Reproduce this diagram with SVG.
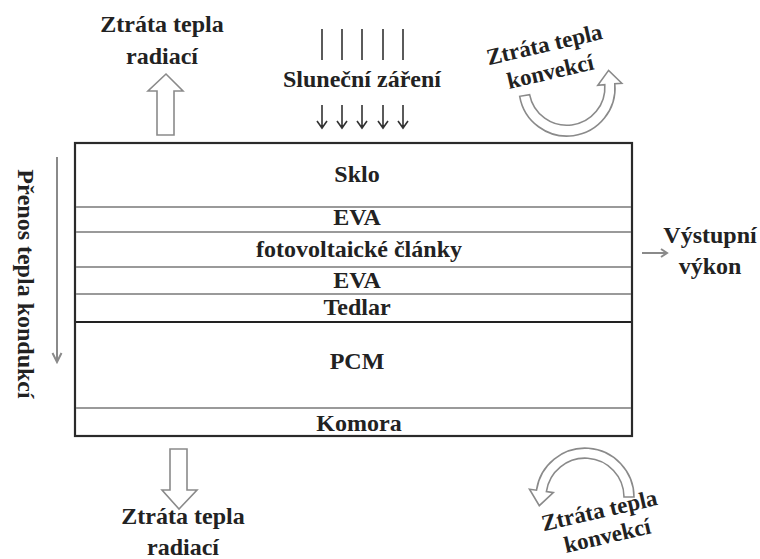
<svg xmlns="http://www.w3.org/2000/svg" width="760" height="559" viewBox="0 0 760 559">
<defs>
<style>
.sep{stroke:#9a9a9a;stroke-width:2}
.dark{stroke:#222;stroke-width:2}
.hollow{fill:#fff;stroke:#8a8a8a;stroke-width:1.6;stroke-linejoin:miter}
.ray{stroke:#333;stroke-width:1.6;fill:none}
.gray{stroke:#8a8a8a;stroke-width:2;fill:none}
</style>
</defs>
<rect width="760" height="559" fill="#fff"/>
<g id="panel">
<rect x="75" y="143" width="557" height="293" fill="#fff" stroke="#2a2a2a" stroke-width="2.2"/>
<line class="sep" x1="76" y1="207" x2="631" y2="207"/>
<line class="sep" x1="76" y1="232" x2="631" y2="232"/>
<line class="sep" x1="76" y1="267" x2="631" y2="267"/>
<line class="sep" x1="76" y1="294" x2="631" y2="294"/>
<line class="dark" x1="76" y1="322" x2="631" y2="322"/>
<line class="sep" x1="76" y1="408" x2="631" y2="408" stroke="#b8b8b8"/>
</g>
<g id="sklo"><text font-family="Liberation Serif" font-weight="bold" font-size="24" fill="#222" text-anchor="middle" x="357" y="182">Sklo</text></g>
<g id="eva1"><text font-family="Liberation Serif" font-weight="bold" font-size="24" fill="#222" text-anchor="middle" x="357" y="225">EVA</text></g>
<g id="fv"><text font-family="Liberation Serif" font-weight="bold" font-size="24" fill="#222" text-anchor="middle" x="359" y="257">fotovoltaické články</text></g>
<g id="eva2"><text font-family="Liberation Serif" font-weight="bold" font-size="24" fill="#222" text-anchor="middle" x="357" y="288">EVA</text></g>
<g id="tedlar"><text font-family="Liberation Serif" font-weight="bold" font-size="24" fill="#222" text-anchor="middle" x="357" y="315">Tedlar</text></g>
<g id="pcm"><text font-family="Liberation Serif" font-weight="bold" font-size="24" fill="#222" text-anchor="middle" x="357" y="369">PCM</text></g>
<g id="komora"><text font-family="Liberation Serif" font-weight="bold" font-size="24" fill="#222" text-anchor="middle" x="359" y="431">Komora</text></g>

<g id="rad-top">
<text font-family="Liberation Serif" font-weight="bold" font-size="24" fill="#222" text-anchor="middle" x="162" y="32">Ztráta tepla</text>
<text font-family="Liberation Serif" font-weight="bold" font-size="24" fill="#222" text-anchor="middle" x="162" y="64">radiací</text>
</g>
<g id="sun"><text font-family="Liberation Serif" font-weight="bold" font-size="24" fill="#222" text-anchor="middle" x="362" y="87">Sluneční záření</text></g>
<g id="conv-top">
<text font-family="Liberation Serif" font-weight="bold" font-size="23" fill="#222" text-anchor="middle" x="546" y="52" transform="rotate(-13 546 52)">Ztráta tepla</text>
<text font-family="Liberation Serif" font-weight="bold" font-size="23" fill="#222" text-anchor="middle" x="552" y="79" transform="rotate(-13 552 79)">konvekcí</text>
</g>
<g id="kond"><text font-family="Liberation Serif" font-weight="bold" font-size="24" fill="#222" text-anchor="middle" x="26" y="284" transform="rotate(90 26 284)" dominant-baseline="central">Přenos tepla kondukcí</text></g>
<g id="output">
<text font-family="Liberation Serif" font-weight="bold" font-size="24" fill="#222" text-anchor="middle" x="710" y="243">Výstupní</text>
<text font-family="Liberation Serif" font-weight="bold" font-size="24" fill="#222" text-anchor="middle" x="710" y="274">výkon</text>
</g>
<g id="rad-bottom">
<text font-family="Liberation Serif" font-weight="bold" font-size="24" fill="#222" text-anchor="middle" x="183" y="524">Ztráta tepla</text>
<text font-family="Liberation Serif" font-weight="bold" font-size="24" fill="#222" text-anchor="middle" x="183" y="555">radiací</text>
</g>
<g id="conv-bottom">
<text font-family="Liberation Serif" font-weight="bold" font-size="23" fill="#222" text-anchor="middle" x="601" y="518" transform="rotate(-13 601 518)">Ztráta tepla</text>
<text font-family="Liberation Serif" font-weight="bold" font-size="23" fill="#222" text-anchor="middle" x="609" y="543" transform="rotate(-13 609 543)">konvekcí</text>
</g>

<g id="connectors">
<path class="hollow" d="M157,135 L157,91 L148,91 L166,74 L183,91 L174,91 L174,135 Z"/>
<path class="hollow" d="M170,449 L187,449 L187,490 L197,490 L179,509 L162,490 L170,490 Z"/>
<path class="hollow" d="M519.7,96.3 A48,48 0 0 0 614.8,83.8 L621.8,83.3 L608.6,70.4 L597.8,85.3 L604.8,84.7 A38,38 0 0 1 529.6,94.6 Z"/>
<path class="hollow" d="M634,497 A49,49 0 0 0 536.5,490.2 L529.5,489.2 L539.3,505.7 L553.3,492.6 L546.4,491.6 A39,39 0 0 1 624,497 Z"/>
<g class="ray">
<path d="M322,29V60M342,29V60M362,29V60M383,29V60M403,29V60"/>
<path d="M322,105V128M317,121L322,128L327,121M342,105V128M337,121L342,128L347,121M362,105V128M357,121L362,128L367,121M383,105V128M378,121L383,128L388,121M403,105V128M398,121L403,128L408,121"/>
</g>
<path class="gray" d="M57,157V362M52.5,353L57,362L61.5,353"/>
<path class="gray" stroke-width="1.5" d="M642,253H667M661,249L667,253L661,257"/>
</g>
</svg>
